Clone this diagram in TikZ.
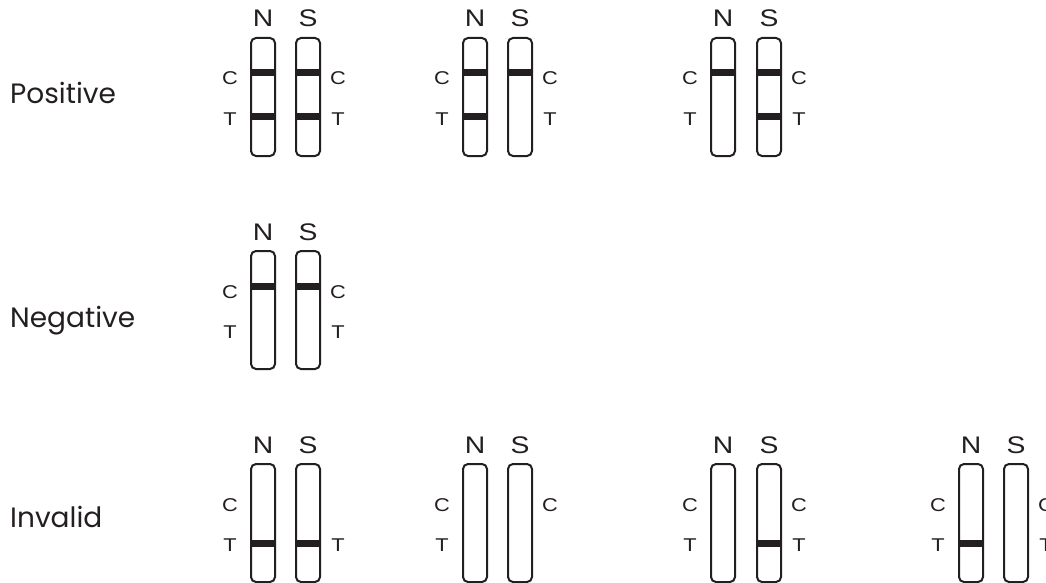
\documentclass[tikz,border=0pt]{standalone}
\usepackage{fontspec}
\usepackage{graphicx}
\setmainfont{Liberation Sans}
\newfontfamily\rowfont{Poppins}
\definecolor{ink}{HTML}{231F20}
\tikzset{
  stripbox/.style={draw=ink, line width=2pt, rounded corners=5pt, minimum width=24pt, minimum height=118pt, inner sep=0pt, outer sep=0pt},
  bandbox/.style={fill=ink, minimum width=24pt, minimum height=7pt, inner sep=0pt, outer sep=0pt},
  nslabel/.style={text=ink, font=\fontsize{24}{24}\selectfont, anchor=base, inner sep=0pt},
  ctlabel/.style={text=ink, font=\fontsize{18.5}{18.5}\selectfont, anchor=base, inner sep=0pt},
  rowlabel/.style={text=ink, font=\rowfont\fontsize{28}{28}\selectfont, anchor=base west, inner sep=0pt},
}
\newcommand\wide[1]{\scalebox{1.18}[1]{#1}}
% #1 name, #2 x centre, #3 top (outer)
\newcommand\mkstrip[3]{\node[stripbox] (#1) at (#2,#3+60) {};}
\newcommand\cband[1]{\node[bandbox] (#1c) at ([yshift=-35pt]#1.north) {};}
\newcommand\tband[1]{\node[bandbox] (#1t) at ([yshift=-79pt]#1.north) {};}
% pair: #1 prefix, #2 N x, #3 S x, #4 top
\newcommand\mkpair[4]{%
  \mkstrip{#1n}{#2}{#4}
  \mkstrip{#1s}{#3}{#4}
  \node[nslabel] (#1nl) at (#2,#4-10) {\wide{N}};
  \node[nslabel] (#1sl) at (#3,#4-10) {\wide{S}};
}
\newcommand\lc[3]{\node[ctlabel] (#1lc) at (#2-33,#3+48) {\wide{C}};}
\newcommand\lt[3]{\node[ctlabel] (#1lt) at (#2-33,#3+88) {\wide{T}};}
\newcommand\rc[3]{\node[ctlabel] (#1rc) at (#2+30,#3+48) {\wide{C}};}
\newcommand\rt[3]{\node[ctlabel] (#1rt) at (#2+30,#3+88) {\wide{T}};}
\begin{document}
\begin{tikzpicture}[x=1pt,y=-1pt]
\useasboundingbox (0,0) rectangle (1046,583);
\clip (0,0) rectangle (1046,583);
% row labels
\node[rowlabel] (pos) at (10,103) {Positive};
\node[rowlabel] (neg) at (10,327) {Negative};
\node[rowlabel] (inv) at (10,527) {Invalid};
% Row 1
\mkpair{aa}{263}{308}{37}
\lc{aa}{263}{37}\lt{aa}{263}{37}\rc{aa}{308}{37}\rt{aa}{308}{37}
\cband{aan}\tband{aan}\cband{aas}\tband{aas}
\mkpair{ab}{475}{520}{37}
\lc{ab}{475}{37}\lt{ab}{475}{37}\rc{ab}{520}{37}\rt{ab}{520}{37}
\cband{abn}\tband{abn}\cband{abs}
\mkpair{ac}{723}{769}{37}
\lc{ac}{723}{37}\lt{ac}{723}{37}\rc{ac}{769}{37}\rt{ac}{769}{37}
\cband{acn}\cband{acs}\tband{acs}
% Row 2
\mkpair{ba}{263}{308}{250}
\lc{ba}{263}{250}\lt{ba}{263}{250}\rc{ba}{308}{250}\rt{ba}{308}{250}
\cband{ban}\cband{bas}
% Row 3
\mkpair{ca}{263}{308}{463}
\lc{ca}{263}{463}\lt{ca}{263}{463}\rt{ca}{308}{463}
\tband{can}\tband{cas}
\mkpair{cb}{475}{520}{463}
\lc{cb}{475}{463}\lt{cb}{475}{463}\rc{cb}{520}{463}
\mkpair{cc}{723}{769}{463}
\lc{cc}{723}{463}\lt{cc}{723}{463}\rc{cc}{769}{463}\rt{cc}{769}{463}
\tband{ccs}
\mkpair{cd}{971}{1016}{463}
\lc{cd}{971}{463}\lt{cd}{971}{463}\rc{cd}{1016}{463}\rt{cd}{1016}{463}
\tband{cdn}
\end{tikzpicture}
\end{document}
